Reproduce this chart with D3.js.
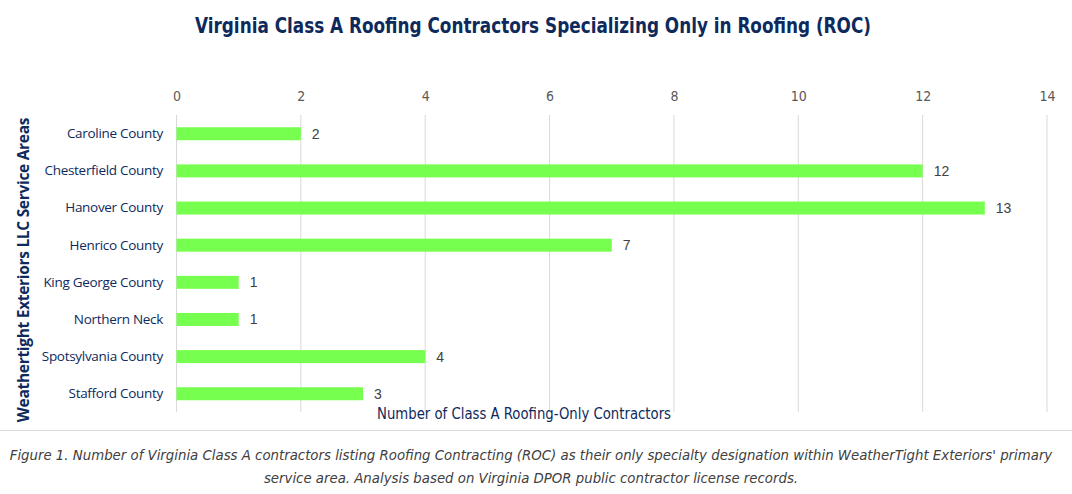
<!DOCTYPE html>
<html>
<head>
<meta charset="utf-8">
<script src="https://cdn.jsdelivr.net/npm/d3@7"></script>
<style>
  body { margin: 0; background: #fff; }
  svg { display: block; }
</style>
</head>
<body>
<script>
// data
const areas = ["Caroline County", "Chesterfield County", "Hanover County", "Henrico County",
  "King George County", "Northern Neck", "Spotsylvania County", "Stafford County"];
const contractors = [2, 12, 13, 7, 1, 1, 4, 3];
const xTicks = [0, 2, 4, 6, 8, 10, 12, 14];

const width = 1072, height = 494;
const navy = "#0e2a5c";
const narrow = "'Liberation Sans Narrow', 'DejaVu Sans Condensed', 'Roboto', sans-serif";

const svg = d3.select("body").append("svg")
  .attr("width", width)
  .attr("height", height);

const x = d3.scaleLinear().domain([0, 14]).range([176.5, 1047]);
const y = d3.scaleBand().domain(areas).range([115, 412.5]).paddingInner(0.65).paddingOuter(0.33);

// title
svg.append("text")
  .attr("x", 533).attr("y", 33)
  .attr("text-anchor", "middle")
  .attr("font-family", narrow)
  .attr("font-weight", "bold")
  .attr("font-size", 21)
  .attr("fill", navy)
  .attr("textLength", 676)
  .attr("lengthAdjust", "spacingAndGlyphs")
  .text("Virginia Class A Roofing Contractors Specializing Only in Roofing (ROC)");

// gridlines
svg.append("g")
  .selectAll("line")
  .data(xTicks)
  .join("line")
    .attr("x1", d => x(d)).attr("x2", d => x(d))
    .attr("y1", 115).attr("y2", 412)
    .attr("stroke", "#d9d9d9")
    .attr("stroke-width", 1);

// top axis labels
const ax = svg.append("g")
  .attr("transform", "translate(0,101)")
  .call(d3.axisTop(x).tickValues(xTicks).tickSize(0).tickPadding(0));
ax.select(".domain").remove();
ax.selectAll("text")
  .attr("font-family", narrow)
  .attr("font-size", 14)
  .attr("fill", "#595959");

// bars
svg.append("g")
  .selectAll("rect")
  .data(contractors)
  .join("rect")
    .attr("x", x(0))
    .attr("y", (d, i) => y(areas[i]))
    .attr("width", d => x(d) - x(0))
    .attr("height", y.bandwidth())
    .attr("fill", "#77ff4f");

// value labels
svg.append("g")
  .selectAll("text")
  .data(contractors)
  .join("text")
    .attr("x", d => x(d) + 11)
    .attr("y", (d, i) => y(areas[i]) + y.bandwidth() / 2)
    .attr("dy", "0.35em")
    .attr("font-family", "'Liberation Sans', Arial, sans-serif")
    .attr("font-size", 14)
    .attr("fill", "#404040")
    .text(d => d);

// category labels
const ay = svg.append("g")
  .attr("transform", "translate(163,0)")
  .call(d3.axisLeft(y).tickSize(0).tickPadding(0));
ay.select(".domain").remove();
ay.selectAll("text")
  .attr("font-family", "'Open Sans', 'Noto Sans', sans-serif")
  .attr("font-size", 13.5)
  .attr("fill", navy)
  .attr("letter-spacing", -0.3);

// axis titles
svg.append("text")
  .attr("transform", "translate(29,270) rotate(-90)")
  .attr("text-anchor", "middle")
  .attr("font-family", "'Open Sans', 'Noto Sans', sans-serif")
  .attr("font-weight", "bold")
  .attr("font-size", 15.5)
  .attr("fill", navy)
  .attr("letter-spacing", -0.3)
  .text("Weathertight Exteriors LLC Service Areas");

svg.append("text")
  .attr("x", 524).attr("y", 419)
  .attr("text-anchor", "middle")
  .attr("font-family", narrow)
  .attr("font-size", 15)
  .attr("fill", navy)
  .attr("textLength", 294)
  .attr("lengthAdjust", "spacingAndGlyphs")
  .text("Number of Class A Roofing-Only Contractors");

// separator line
svg.append("line")
  .attr("x1", 0).attr("x2", width)
  .attr("y1", 430.5).attr("y2", 430.5)
  .attr("stroke", "#d9d9d9");

// caption
const caption = [
  "Figure 1. Number of Virginia Class A contractors listing Roofing Contracting (ROC) as their only specialty designation within WeatherTight Exteriors' primary",
  "service area. Analysis based on Virginia DPOR public contractor license records."
];
svg.append("g")
  .selectAll("text")
  .data(caption)
  .join("text")
    .attr("x", 531)
    .attr("y", (d, i) => 460 + i * 23)
    .attr("text-anchor", "middle")
    .attr("font-family", narrow)
    .attr("font-style", "italic")
    .attr("font-size", 14.8)
    .attr("fill", "#404040")
    .text(d => d);
</script>
</body>
</html>
